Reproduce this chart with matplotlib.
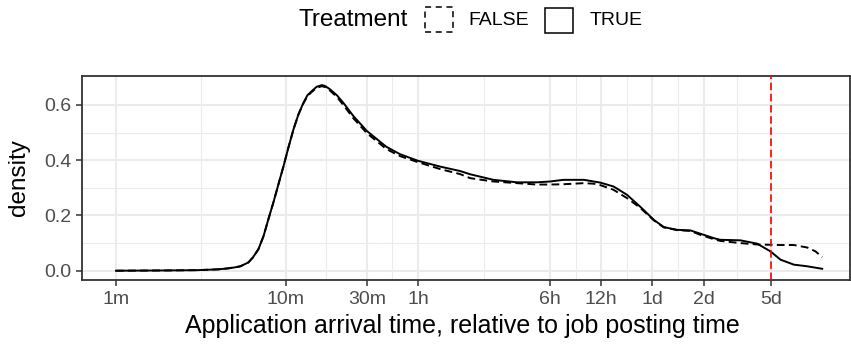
import matplotlib.pyplot as plt
from matplotlib.patches import Rectangle
from matplotlib.ticker import NullFormatter
import numpy as np

plt.rcParams['font.family'] = ['Liberation Sans', 'DejaVu Sans']

# Density of application arrival time (minutes after posting), by treatment group
true_minutes = [1, 2, 3, 4, 4.5, 5, 5.4, 6.02, 6.4, 6.9, 7.4, 7.9, 8.45, 9.05, 9.7,
                10.36, 11.1, 11.87, 12.7, 13.4, 14.2, 15.2, 16.3, 17.0, 18.2, 20,
                21.8, 25, 30, 39, 47, 60, 81, 106, 122, 167, 230, 300, 360, 430,
                570, 650, 710, 850, 1020, 1220, 1470, 1680, 2010, 2410, 2760, 3310,
                3610, 4750, 5960, 7140, 8180, 9800, 11750, 14400]
true_density = [0.0, 0.001, 0.002, 0.005, 0.008, 0.012, 0.016, 0.030, 0.048, 0.078,
                0.126, 0.187, 0.247, 0.313, 0.379, 0.446, 0.512, 0.566, 0.608, 0.635,
                0.650, 0.666, 0.672, 0.669, 0.657, 0.635, 0.608, 0.560, 0.506, 0.449,
                0.422, 0.398, 0.377, 0.361, 0.349, 0.329, 0.320, 0.320, 0.323, 0.329,
                0.329, 0.323, 0.319, 0.305, 0.275, 0.232, 0.184, 0.158, 0.148, 0.146,
                0.134, 0.118, 0.112, 0.110, 0.098, 0.070, 0.040, 0.022, 0.016, 0.007]

false_minutes = [1, 2, 3, 4, 4.5, 5, 5.4, 6.02, 6.4, 6.9, 7.4, 7.9, 8.45, 9.05, 9.7,
                 10.36, 11.1, 11.87, 12.7, 13.4, 14.2, 15.2, 16.3, 17.0, 18.2, 20,
                 21.8, 25, 30, 39, 47, 60, 81, 106, 122, 167, 230, 300, 360, 430,
                 570, 650, 710, 850, 1020, 1220, 1470, 1680, 2010, 2410, 2760, 3310,
                 3610, 4750, 5960, 7140, 8180, 9800, 11750, 13150, 14400]
false_density = [0.0, 0.001, 0.002, 0.005, 0.008, 0.012, 0.016, 0.030, 0.048, 0.078,
                 0.126, 0.187, 0.247, 0.313, 0.379, 0.446, 0.512, 0.566, 0.606, 0.632,
                 0.647, 0.662, 0.668, 0.665, 0.652, 0.629, 0.600, 0.552, 0.498, 0.441,
                 0.415, 0.393, 0.368, 0.350, 0.335, 0.323, 0.317, 0.312, 0.312, 0.313,
                 0.317, 0.315, 0.310, 0.293, 0.263, 0.228, 0.182, 0.157, 0.147, 0.144,
                 0.130, 0.114, 0.108, 0.100, 0.095, 0.094, 0.093, 0.093, 0.084, 0.070,
                 0.049]

tick_minutes = [1, 10, 30, 60, 360, 720, 1440, 2880, 7200]
tick_labels = ['1m', '10m', '30m', '1h', '6h', '12h', '1d', '2d', '5d']
cutoff_minutes = 7200  # 5 days

W, H = 851, 347
fig = plt.figure(figsize=(W / 100, H / 100), dpi=100)
ax = fig.add_axes([82 / W, 1 - 280 / H, 767.5 / W, 204.3 / H])

grid_col = '#EBEBEB'
ink = '#333333'

# curves
ax.plot(false_minutes, false_density, color='black', lw=1.4,
        linestyle=(0, (4, 2.2)), zorder=3)
ax.plot(true_minutes, true_density, color='black', lw=1.4, zorder=4)
ax.axvline(cutoff_minutes, color='#FF0000', lw=1.2, linestyle=(0, (4.5, 2.2)), zorder=5)

ax.set_xscale('log')
ax.set_xlim(10 ** -0.2, 10 ** 4.319)
ax.set_ylim(-0.0336, 0.706)

ax.set_xticks(tick_minutes)
ax.set_xticklabels(tick_labels)
logs = np.log10(tick_minutes)
ax.set_xticks(10 ** ((logs[:-1] + logs[1:]) / 2), minor=True)
ax.xaxis.set_minor_formatter(NullFormatter())
ax.set_yticks([0.0, 0.2, 0.4, 0.6])
ax.set_yticklabels(['0.0', '0.2', '0.4', '0.6'])
ax.set_yticks([0.1, 0.3, 0.5], minor=True)

ax.set_axisbelow(True)
ax.grid(which='major', color=grid_col, lw=1.5)
ax.grid(which='minor', color=grid_col, lw=0.75)

ax.tick_params(which='major', length=4.3, width=1.1, color=ink, labelcolor='#4D4D4D',
               labelsize=14, pad=3.5)
ax.tick_params(which='minor', length=0)
for s in ax.spines.values():
    s.set_color(ink)
    s.set_linewidth(1.3)

fig.text(462 / W, 1 - 326 / H, 'Application arrival time, relative to job posting time',
         ha='center', va='center', fontsize=18)
fig.text(19 / W, 1 - 178 / H, 'density', rotation=90, ha='center', va='center',
         fontsize=17.5)

# legend across the top
ly = 1 - 20.5 / H
fig.text(408 / W, ly, 'Treatment', ha='right', va='center', fontsize=17.5)
fig.add_artist(Rectangle((425 / W, 1 - 32 / H), 28 / W, 25 / H, transform=fig.transFigure,
                         facecolor='none', edgecolor='black', lw=1.1,
                         linestyle=(0, (4, 3))))
fig.text(468 / W, ly, 'FALSE', ha='left', va='center', fontsize=14)
fig.add_artist(Rectangle((545 / W, 1 - 33 / H), 28 / W, 25 / H, transform=fig.transFigure,
                         facecolor='none', edgecolor='black', lw=1.1))
fig.text(590 / W, ly, 'TRUE', ha='left', va='center', fontsize=14)

fig.savefig('out.png', dpi=100)
